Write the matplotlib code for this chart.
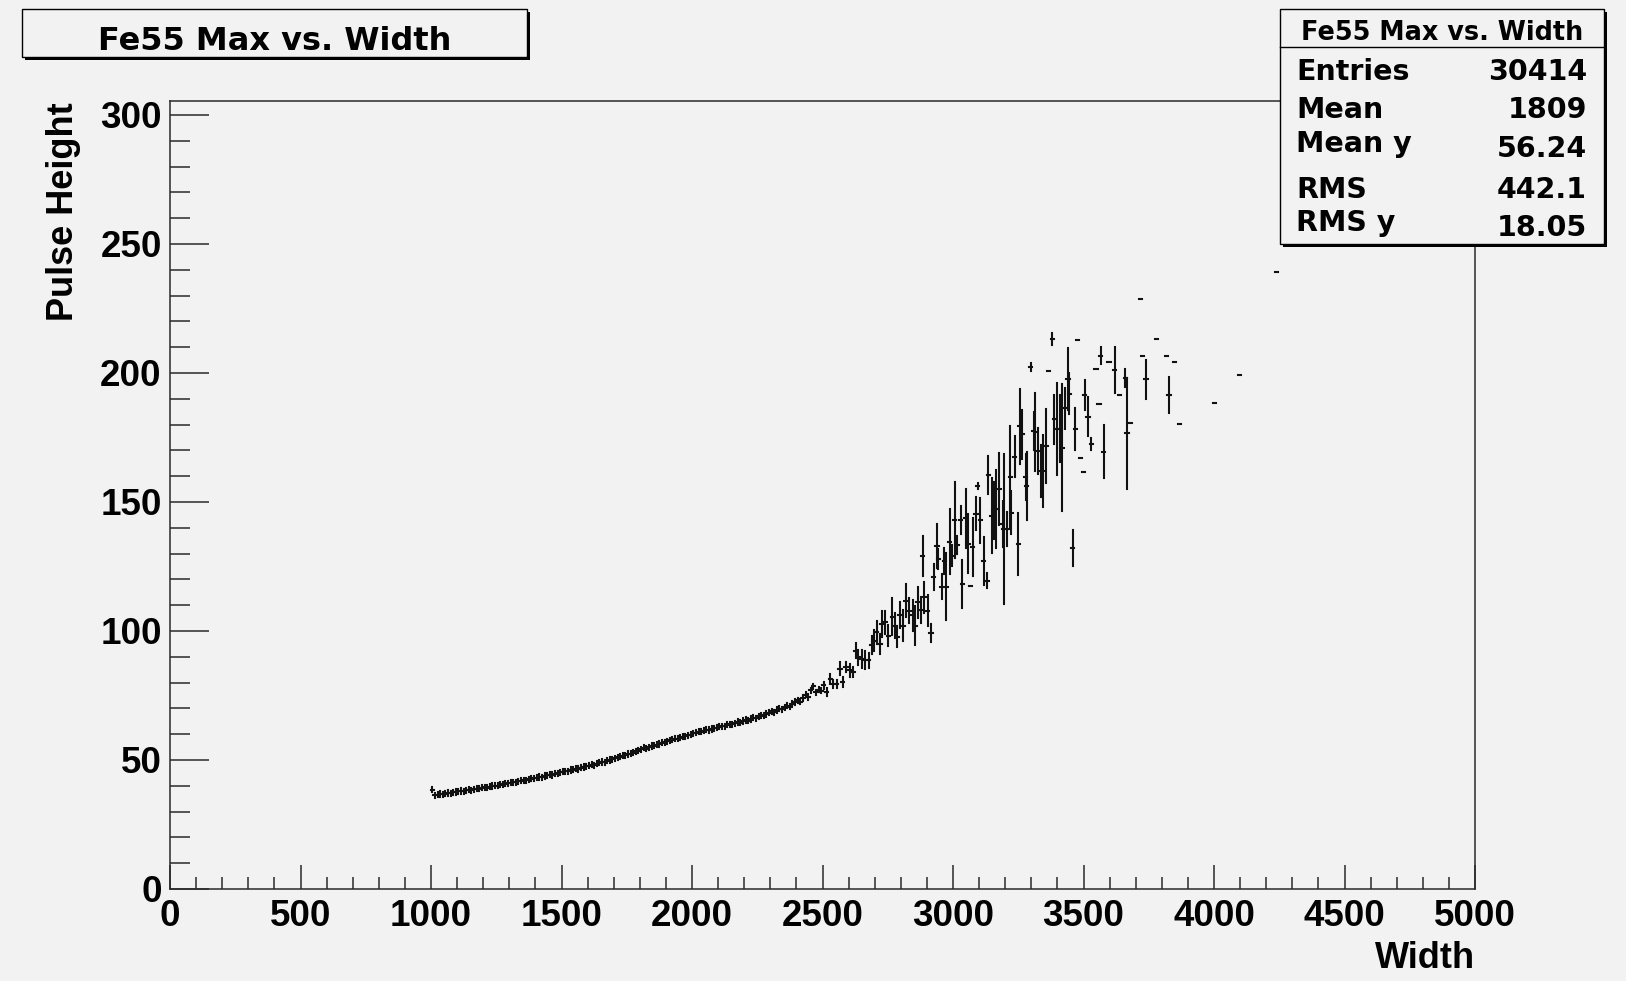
import numpy as np
import matplotlib
matplotlib.use("Agg")
import matplotlib.pyplot as plt
from matplotlib.patches import Rectangle
from matplotlib.ticker import MultipleLocator

# ---------------- data ----------------
title = "Fe55 Max vs. Width"
x_label = "Width"
y_label = "Pulse Height"
stats_labels = ["Entries", "Mean", "Mean y", "RMS", "RMS y"]
stats_values = ["30414", "1809", "56.24", "442.1", "18.05"]
x_ticks = [0, 500, 1000, 1500, 2000, 2500, 3000, 3500, 4000, 4500, 5000]
y_ticks = [0, 50, 100, 150, 200, 250, 300]
bin_half = 6.25

# smooth part of the profile, bin centres 1005 ... 2495
smooth_x = np.arange(1005, 2500, 10)
smooth_y = [
    38.5, 36.3, 36.5, 36.8, 36.7, 37.0, 37.2, 37.1, 37.5, 37.6,
    37.9, 38.0, 37.8, 38.3, 38.4, 38.3, 38.7, 38.9, 38.8, 39.2,
    39.4, 39.3, 39.7, 39.9, 40.1, 40.0, 40.4, 40.6, 40.8, 40.9,
    41.2, 41.4, 41.3, 41.7, 41.9, 42.2, 42.1, 42.5, 42.7, 42.9,
    43.2, 43.4, 43.3, 43.8, 44.0, 44.3, 44.2, 44.7, 44.9, 45.2,
    45.4, 45.7, 45.6, 46.1, 46.3, 46.6, 46.5, 47.0, 47.3, 47.5,
    47.8, 48.1, 48.0, 48.6, 48.9, 49.2, 49.1, 49.7, 50.0, 50.3,
    50.7, 51.0, 51.2, 51.6, 51.9, 52.3, 52.5, 52.9, 53.3, 53.6,
    54.1, 54.7, 54.3, 55.0, 55.4, 55.6, 56.0, 56.2, 56.7, 56.9,
    57.3, 57.6, 57.8, 58.2, 58.3, 58.7, 59.0, 59.2, 59.6, 59.8,
    60.3, 60.6, 60.9, 61.0, 61.3, 61.7, 61.6, 62.0, 62.3, 62.5,
    62.9, 63.1, 63.0, 63.6, 63.9, 63.8, 64.3, 64.7, 64.5, 65.1,
    65.5, 65.3, 65.9, 66.4, 66.2, 66.9, 67.3, 67.1, 67.8, 68.4,
    68.8, 68.5, 69.4, 69.9, 69.6, 70.5, 71.1, 70.7, 71.8, 72.5,
    73.2, 72.6, 74.0, 75.3, 74.4, 77.0, 78.5, 76.3, 77.2, 76.8,
]
smooth_err = 1.0

# scattered part of the profile
scatter_x = [
    2505, 2516, 2530, 2541, 2554, 2567, 2577, 2590, 2605, 2618,
    2628, 2637, 2650, 2663, 2677, 2689, 2696, 2708, 2720, 2728,
    2740, 2752, 2767, 2778, 2786, 2797, 2810, 2820, 2833, 2846,
    2855, 2865, 2878, 2884, 2890, 2903, 2916, 2926, 2939, 2944,
    2957, 2967, 2974, 2988, 2997, 3006, 3016, 3029, 3035, 3048,
    3057, 3067, 3076, 3088, 3095, 3105, 3118, 3130, 3136, 3149,
    3157, 3166, 3178, 3191, 3195, 3208, 3219, 3223, 3237, 3250,
    3255, 3266, 3278, 3283, 3297, 3309, 3315, 3325, 3338, 3346,
    3356, 3367, 3380, 3388, 3398, 3411, 3418, 3428, 3441, 3446,
    3458, 3469, 3476, 3488, 3499, 3505, 3517, 3530, 3548, 3559,
    3566, 3577, 3598, 3620, 3637, 3660, 3667, 3678, 3718, 3726,
    3739, 3780, 3819, 3828, 3849, 3869, 4001, 4099, 4240,
]
scatter_y = [
    78.9, 76.3, 81.5, 79.5, 79.5, 85.3, 80.2, 86.0, 84.7, 84.0,
    92.4, 89.8, 89.2, 88.6, 88.6, 94.4, 96.3, 99.5, 95.0, 102.7,
    103.4, 98.2, 105.6, 102.1, 97.8, 106.3, 102.1, 111.8, 107.9, 106.0,
    102.1, 111.1, 108.0, 129.2, 113.0, 107.9, 99.1, 120.8, 133.0, 127.9,
    117.2, 127.2, 117.2, 134.6, 129.2, 142.9, 133.3, 142.9, 118.2, 143.6,
    133.9, 117.6, 132.6, 145.5, 156.2, 142.9, 127.2, 119.5, 160.4, 144.6,
    146.8, 147.2, 155.0, 141.4, 139.5, 139.5, 159.7, 145.9, 167.6, 133.7,
    179.4, 176.2, 159.7, 156.2, 202.4, 177.5, 177.0, 169.8, 162.0, 162.0,
    171.7, 200.6, 213.2, 182.0, 178.4, 178.4, 171.0, 186.3, 197.5, 192.0,
    132.1, 178.4, 212.6, 166.9, 161.5, 191.5, 183.1, 172.3, 201.7, 187.9,
    206.7, 169.4, 204.1, 201.1, 191.5, 197.9, 176.6, 180.7, 228.8, 206.6,
    197.5, 213.2, 206.6, 191.5, 204.1, 180.1, 188.4, 199.4, 239.0,
]
scatter_err = [
    1.5, 1.5, 2.0, 1.5, 1.5, 2.5, 2.0, 2.0, 2.5, 2.0,
    3.0, 3.0, 3.5, 3.5, 3.0, 3.5, 4.0, 4.5, 4.0, 5.0,
    4.5, 4.0, 7.0, 5.0, 4.0, 5.0, 6.0, 6.4, 5.0, 6.0,
    7.7, 6.0, 5.0, 7.7, 6.0, 6.0, 3.5, 5.0, 8.4, 4.0,
    5.0, 5.0, 12.9, 12.6, 4.0, 14.8, 3.5, 5.5, 9.4, 11.3,
    11.3, 0.0, 11.3, 6.4, 1.0, 8.7, 9.4, 3.0, 7.4, 14.5,
    11.0, 15.0, 13.9, 9.0, 29.0, 6.5, 19.6, 8.4, 8.0, 11.9,
    14.5, 9.4, 9.0, 13.2, 1.5, 7.5, 15.1, 9.0, 10.0, 13.9,
    14.2, 0.0, 2.3, 9.4, 17.9, 12.9, 24.6, 8.0, 12.0, 8.0,
    7.0, 8.2, 0.0, 0.0, 0.0, 5.8, 7.7, 2.3, 0.0, 0.0,
    3.2, 10.3, 0.0, 9.0, 0.0, 3.5, 21.4, 0.0, 0.0, 0.0,
    7.7, 0.0, 0.0, 6.9, 0.0, 0.0, 0.0, 0.0, 0.0,
]

# ---------------- style ----------------
BG = "#f2f2f2"
INK = "#111111"
FRAME = "#2a2a2a"
ROOTFONT = ["Liberation Sans", "DejaVu Sans"]
BOXFONT = ["DejaVu Sans"]
plt.rcParams["font.family"] = ROOTFONT
plt.rcParams["font.weight"] = "bold"

W, H = 1626, 981
fig = plt.figure(figsize=(W / 100, H / 100), dpi=100, facecolor=BG)


def fx(px):
    return px / W


def fy(py):
    return 1 - py / H


ax_left, ax_right, ax_top, ax_bottom = 170, 1475, 101, 889
ax = fig.add_axes([fx(ax_left), fy(ax_bottom), (ax_right - ax_left) / W,
                   (ax_bottom - ax_top) / H])
ax.set_facecolor(BG)

for xs, ys, es in [(smooth_x, smooth_y, smooth_err),
                   (scatter_x, scatter_y, scatter_err)]:
    eb = ax.errorbar(xs, ys, yerr=es, xerr=bin_half, fmt="none",
                     ecolor=INK, elinewidth=1.5, capsize=0)
    for lc in eb.lines[2]:
        lc.set_capstyle("projecting")

ax.set_xlim(0, 5000)
ax.set_ylim(0, 305.4)
ax.set_xticks(x_ticks)
ax.set_yticks(y_ticks)
ax.set_xticklabels([str(t) for t in x_ticks])
ax.set_yticklabels([str(t) for t in y_ticks])
ax.xaxis.set_minor_locator(MultipleLocator(100))
ax.yaxis.set_minor_locator(MultipleLocator(10))

ax.tick_params(axis="x", which="major", direction="in", length=17.3, width=1.1,
               color=FRAME, top=False, pad=7, labelsize=26.5)
ax.tick_params(axis="x", which="minor", direction="in", length=8.6, width=1.1,
               color=FRAME, top=False)
ax.tick_params(axis="y", which="major", direction="in", length=28, width=1.1,
               color=FRAME, right=False, pad=6, labelsize=26.5)
ax.tick_params(axis="y", which="minor", direction="in", length=14.4, width=1.1,
               color=FRAME, right=False)
for lab in ax.get_xticklabels() + ax.get_yticklabels():
    lab.set_fontweight("bold")
for sp in ax.spines.values():
    sp.set_color(FRAME)
    sp.set_linewidth(1.1)

# axis titles
fig.text(fx(1475), fy(968), x_label, ha="right", va="baseline",
         fontsize=26, fontweight="bold")
fig.text(fx(73), fy(102), y_label, rotation=90, rotation_mode="anchor",
         ha="right", va="baseline", fontsize=26, fontweight="bold")


def shadow_box(l, t, r, b, shadow=3):
    fig.patches.append(Rectangle((fx(l + shadow), fy(b + shadow)),
                                 (r - l) / W, (b - t) / H,
                                 transform=fig.transFigure, facecolor="#000000",
                                 edgecolor="none", zorder=5))
    fig.patches.append(Rectangle((fx(l), fy(b)), (r - l) / W, (b - t) / H,
                                 transform=fig.transFigure, facecolor=BG,
                                 edgecolor="#000000", linewidth=1.0, zorder=6))


# title box
shadow_box(22, 9, 527, 57)
fig.text(fx(275), fy(49.5), title, ha="center", va="baseline",
         fontsize=23, fontweight="bold", family=BOXFONT, zorder=7)

# stats box
shadow_box(1280, 9, 1604, 244)
fig.add_artist(plt.Line2D([fx(1280), fx(1604)], [fy(46.7), fy(46.7)],
                          color="#000000", linewidth=1.0, zorder=7,
                          transform=fig.transFigure))
fig.text(fx(1442), fy(39.5), title, ha="center", va="baseline",
         fontsize=18.4, fontweight="bold", family=BOXFONT, zorder=7)
label_base = [79.5, 118.0, 152.0, 197.5, 231.0]
value_base = [79.5, 118.0, 157.0, 197.5, 235.5]
for lab, val, lb, vb in zip(stats_labels, stats_values, label_base, value_base):
    fig.text(fx(1296), fy(lb), lab, ha="left", va="baseline",
             fontsize=20.5, fontweight="bold", family=BOXFONT, zorder=7)
    fig.text(fx(1587), fy(vb), val, ha="right", va="baseline",
             fontsize=20.5, fontweight="bold", family=BOXFONT, zorder=7)

fig.savefig("out.png", dpi=100, facecolor=BG)
